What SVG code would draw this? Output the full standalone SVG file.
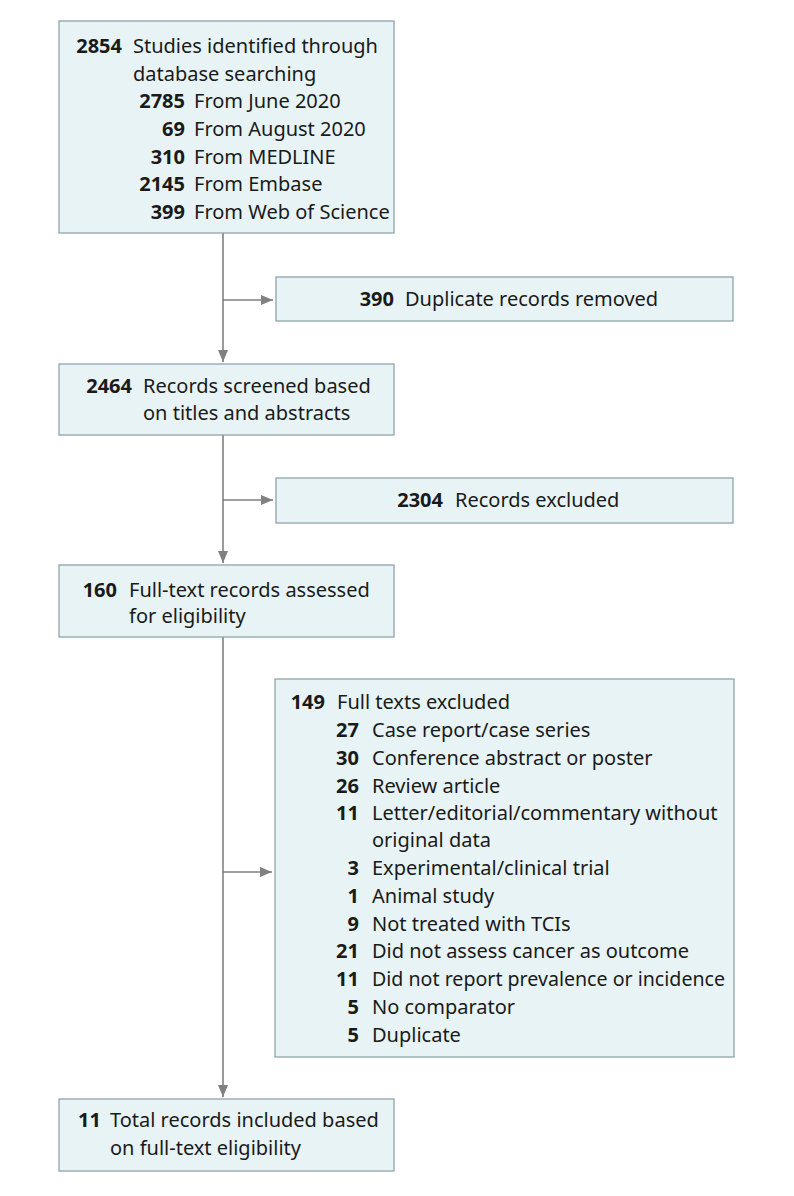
<svg xmlns="http://www.w3.org/2000/svg" width="794" height="1196" viewBox="0 0 794 1196">
<defs>
<style>
.box{fill:#e7f3f4;stroke:#8fa5aa;stroke-width:1.3}
text{font-family:"Noto Sans","Liberation Sans",sans-serif;font-size:20px;fill:#1a1a1a}
.n{font-weight:bold;text-anchor:end}
.ln{stroke:#808080;stroke-width:1.6;fill:none}
</style>
<marker id="ah" markerWidth="12" markerHeight="10" refX="12" refY="5" orient="auto" markerUnits="userSpaceOnUse">
<path d="M0,0 L12,5 L0,10 Z" fill="#808080"/>
</marker>
</defs>
<rect width="794" height="1196" fill="#ffffff"/>
<g id="connectors">
<path class="ln" d="M223,233 V362" marker-end="url(#ah)"/>
<path class="ln" d="M223,435 V563" marker-end="url(#ah)"/>
<path class="ln" d="M223,637 V1097" marker-end="url(#ah)"/>
<path class="ln" d="M223,300 H273" marker-end="url(#ah)"/>
<path class="ln" d="M223,500 H273" marker-end="url(#ah)"/>
<path class="ln" d="M223,872 H272" marker-end="url(#ah)"/>
</g>
<g id="identified">
<rect class="box" x="59" y="21" width="335" height="212"/>
<text class="n" x="122" y="53">2854</text>
<text x="133" y="53">Studies identified through</text>
<text x="133" y="80.5">database searching</text>
<text class="n" x="185" y="108">2785</text><text x="194" y="108">From June 2020</text>
<text class="n" x="185" y="136">69</text><text x="194" y="136">From August 2020</text>
<text class="n" x="185" y="163.5">310</text><text x="194" y="163.5">From MEDLINE</text>
<text class="n" x="185" y="191">2145</text><text x="194" y="191">From Embase</text>
<text class="n" x="185" y="218.5">399</text><text x="194" y="218.5">From Web of Science</text>
</g>
<g id="duplicates">
<rect class="box" x="276" y="277" width="457" height="44"/>
<text class="n" x="394" y="306">390</text>
<text x="405" y="306">Duplicate records removed</text>
</g>
<g id="screened">
<rect class="box" x="59" y="364" width="335" height="71"/>
<text class="n" x="132" y="393">2464</text>
<text x="143" y="393">Records screened based</text>
<text x="143" y="420">on titles and abstracts</text>
</g>
<g id="excluded">
<rect class="box" x="276" y="478" width="457" height="45"/>
<text class="n" x="443" y="507">2304</text>
<text x="455" y="507">Records excluded</text>
</g>
<g id="fulltext">
<rect class="box" x="59" y="565" width="335" height="72"/>
<text class="n" x="117" y="597">160</text>
<text x="129" y="597">Full-text records assessed</text>
<text x="129" y="623">for eligibility</text>
</g>
<g id="fulltext-excluded">
<rect class="box" x="275" y="679" width="459" height="378"/>
<text class="n" x="325" y="709">149</text><text x="337" y="709">Full texts excluded</text>
<text class="n" x="359" y="737">27</text><text x="372" y="737">Case report/case series</text>
<text class="n" x="359" y="765">30</text><text x="372" y="765">Conference abstract or poster</text>
<text class="n" x="359" y="793">26</text><text x="372" y="793">Review article</text>
<text class="n" x="359" y="820">11</text><text x="372" y="820">Letter/editorial/commentary without</text>
<text x="372" y="847">original data</text>
<text class="n" x="359" y="875">3</text><text x="372" y="875">Experimental/clinical trial</text>
<text class="n" x="359" y="903">1</text><text x="372" y="903">Animal study</text>
<text class="n" x="359" y="931">9</text><text x="372" y="931">Not treated with TCIs</text>
<text class="n" x="359" y="958">21</text><text x="372" y="958">Did not assess cancer as outcome</text>
<text class="n" x="359" y="986">11</text><text x="372" y="986" textLength="353" lengthAdjust="spacingAndGlyphs">Did not report prevalence or incidence</text>
<text class="n" x="359" y="1014">5</text><text x="372" y="1014">No comparator</text>
<text class="n" x="359" y="1042">5</text><text x="372" y="1042">Duplicate</text>
</g>
<g id="included">
<rect class="box" x="59" y="1099" width="335" height="72"/>
<text class="n" x="101" y="1127">11</text>
<text x="110" y="1127">Total records included based</text>
<text x="110" y="1155">on full-text eligibility</text>
</g>
</svg>
